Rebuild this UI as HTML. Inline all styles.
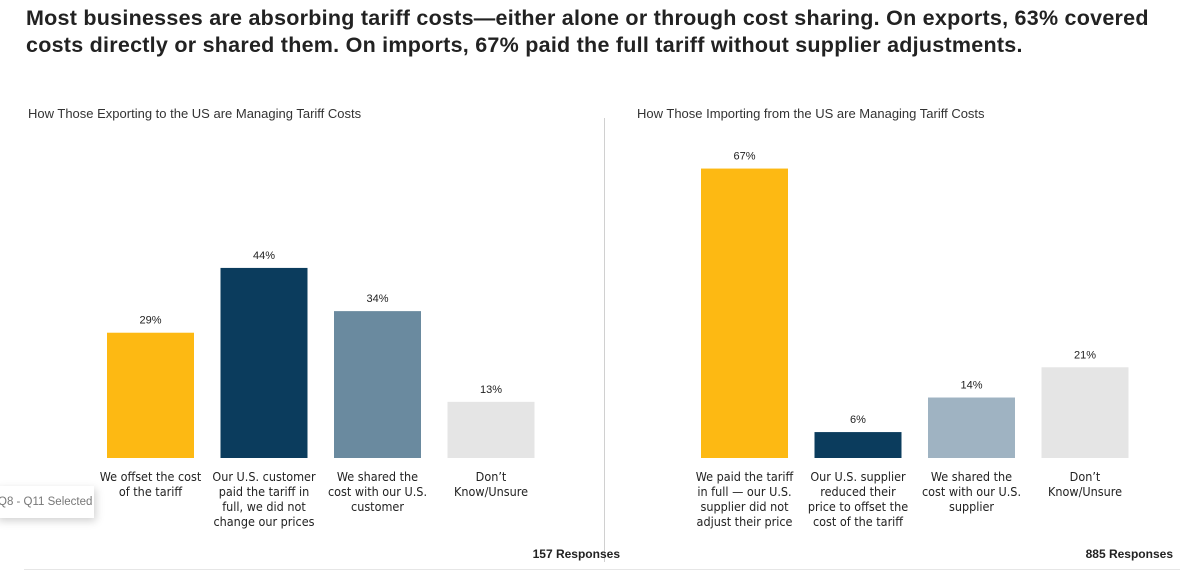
<!DOCTYPE html>
<html><head><meta charset="utf-8"><style>
body{margin:0;background:#fff;font-family:"Liberation Sans","DejaVu Sans",sans-serif;color:#222;}
#wrap{position:relative;width:1199px;height:571px;overflow:hidden;}
.title{position:absolute;left:26px;top:5px;font-size:21.5px;font-weight:bold;line-height:27px;color:#222;letter-spacing:0.25px;white-space:nowrap;}
.sub{position:absolute;top:106px;font-size:13px;color:#333;}
.tip{position:absolute;left:-4px;top:486px;width:96px;height:32px;background:#fff;box-shadow:2px 3px 8px rgba(0,0,0,.18);font-size:11.5px;color:#777;line-height:32px;padding-left:2px;white-space:nowrap;overflow:hidden;}
</style></head><body>
<div id="wrap">
<div class="title">Most businesses are absorbing tariff costs—either alone or through cost sharing. On exports, 63% covered<br>costs directly or shared them. On imports, 67% paid the full tariff without supplier adjustments.</div>
<div class="sub" style="left:28px">How Those Exporting to the US are Managing Tariff Costs</div>
<div class="sub" style="left:637px">How Those Importing from the US are Managing Tariff Costs</div>
<svg id="chart" width="1199" height="571" style="position:absolute;left:0;top:0">
<line x1="604.5" y1="118" x2="604.5" y2="562" stroke="#d0d0d0"/>
<line x1="24" y1="569.5" x2="1180" y2="569.5" stroke="#e6e6e6"/>
<text x="620" y="558" text-anchor="end" font-size="12" font-weight="bold" fill="#222">157 Responses</text>
<text x="1173" y="558" text-anchor="end" font-size="12" font-weight="bold" fill="#222">885 Responses</text>
</svg>
<div class="tip">Q8 - Q11 Selected</div>
</div>
<script>
const exportCategories=[["We offset the cost","of the tariff"],["Our U.S. customer","paid the tariff in","full, we did not","change our prices"],["We shared the","cost with our U.S.","customer"],["Don’t","Know/Unsure"]];
const exportValues=[29,44,34,13];
const importCategories=[["We paid the tariff","in full — our U.S.","supplier did not","adjust their price"],["Our U.S. supplier","reduced their","price to offset the","cost of the tariff"],["We shared the","cost with our U.S.","supplier"],["Don’t","Know/Unsure"]];
const importValues=[67,6,14,21];
const exportColors=["#FDB913","#0B3C5D","#6A8A9F","#E5E5E5"];
const importColors=["#FDB913","#0B3C5D","#9FB3C2","#E5E5E5"];
const NS="http://www.w3.org/2000/svg";
const svg=document.getElementById('chart');
const base=458, scale=4.32;
function y(v){return base-v*scale;}
function draw(cats,vals,cols,x0,prefix){
  const step=113.5,w=87;
  vals.forEach((v,i)=>{
    const x=x0+i*step;
    const r=document.createElementNS(NS,'rect');
    r.setAttribute('x',x);r.setAttribute('y',y(v));r.setAttribute('width',w);r.setAttribute('height',base-y(v));r.setAttribute('fill',cols[i]);
    
    
    svg.appendChild(r);
    const t=document.createElementNS(NS,'text');
    t.setAttribute('x',x+w/2);t.setAttribute('y',y(v)-9);t.setAttribute('text-anchor','middle');t.setAttribute('font-size','11');t.setAttribute('fill','#222');
    t.textContent=v+'%';
    
    
    svg.appendChild(t);
    cats[i].forEach((line,j)=>{
      const c=document.createElementNS(NS,'text');
      c.setAttribute('x',x+w/2);c.setAttribute('y',481+j*15);c.setAttribute('text-anchor','middle');c.setAttribute('font-size','12.5');c.setAttribute('fill','#222');
      c.setAttribute('font-family','"DejaVu Sans Condensed","Liberation Sans Narrow","Liberation Sans",sans-serif');
      c.textContent=line;
      
      
      svg.appendChild(c);
    });
  });
}
draw(exportCategories,exportValues,exportColors,107,'export');
draw(importCategories,importValues,importColors,701,'import');
</script>
</body></html>
